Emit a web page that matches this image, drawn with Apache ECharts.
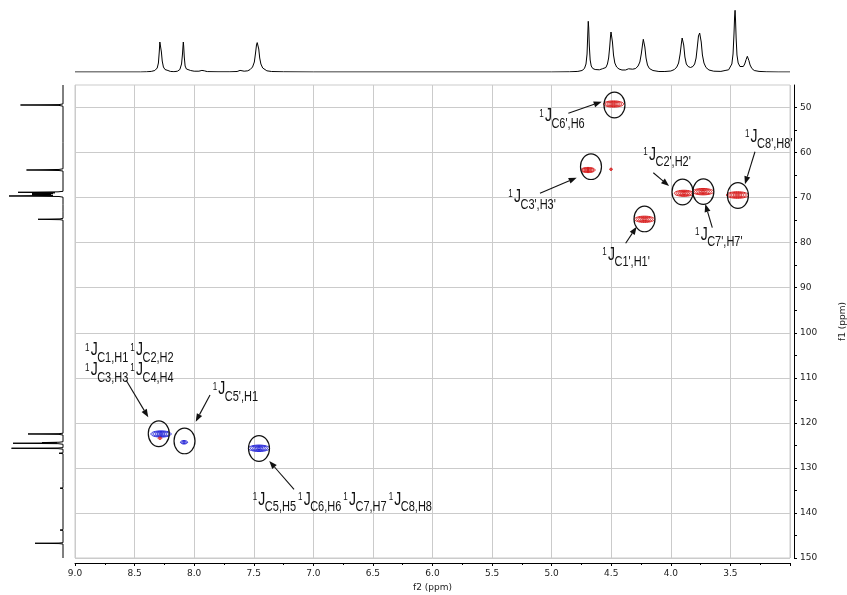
<!DOCTYPE html>
<html>
<head>
<meta charset="utf-8">
<script src="https://cdn.jsdelivr.net/npm/echarts@6/dist/echarts.min.js"></script>
<style>html,body{margin:0;padding:0;background:#fff}#c{width:847px;height:595px}</style>
</head>
<body>
<div id="c"></div>
<script>
// ---------------- DATA ----------------
// f1 (13C) axis tick values
const yLabelValues = [50, 60, 70, 80, 90, 100, 110, 120, 130, 140, 150];
const yMinorValues = [55, 65, 75, 85, 95, 105, 115, 125, 135, 145];

// 1H projection trace (top): [ppm, intensity]
const protonTrace = [
 [9.00,0],[8.45,0],[8.40,0.2],[8.36,0.6],[8.33,1.5],[8.31,4],[8.30,9],[8.293,20],[8.288,30],[8.284,31],[8.280,28],[8.275,20],[8.268,11],[8.258,5],[8.245,2.5],[8.232,2.2],[8.22,1.5],[8.20,0.6],[8.17,0.3],[8.14,0.8],[8.12,2.5],[8.106,8],[8.098,18],[8.093,27],[8.091,30],[8.088,26],[8.083,15],[8.076,6],[8.065,3],[8.05,2],[8.03,1.5],[8.00,0.8],[7.96,0.8],[7.935,1.6],[7.915,1.2],[7.89,0.4],[7.80,0.2],[7.70,0.2],[7.64,0.5],[7.615,1.6],[7.60,1.0],[7.58,0.8],[7.55,1.2],[7.53,2.5],[7.51,5],[7.495,10],[7.485,19],[7.477,27],[7.471,29.4],[7.465,28.5],[7.458,23],[7.45,14],[7.44,8],[7.425,4],[7.41,2.2],[7.39,1.2],[7.35,0.5],[7.25,0.2],[7.0,0],[5.0,0],[4.85,0.2],[4.78,0.6],[4.745,1.5],[4.725,3.5],[4.712,8],[4.703,18],[4.697,38],[4.693,50.7],[4.689,44],[4.684,26],[4.677,12],[4.668,6],[4.655,3.5],[4.635,2.5],[4.60,2.2],[4.575,3.2],[4.56,3.4],[4.545,4.5],[4.532,8],[4.522,14],[4.513,25],[4.506,36],[4.502,40],[4.497,38],[4.49,30],[4.481,17],[4.47,9],[4.455,5],[4.435,3],[4.41,2],[4.38,2],[4.355,3.2],[4.34,3],[4.32,2.8],[4.295,3.5],[4.275,6],[4.26,10],[4.248,18],[4.238,27],[4.231,32.7],[4.225,31.5],[4.218,25],[4.208,14],[4.196,7],[4.18,3.5],[4.15,1.5],[4.10,0.5],[4.05,0.5],[4.00,1],[3.97,2.5],[3.95,5],[3.935,9],[3.922,18],[3.912,28],[3.905,34],[3.899,33.5],[3.892,27],[3.882,15],[3.87,8],[3.855,5.5],[3.835,4.5],[3.815,5.5],[3.80,8],[3.788,14],[3.777,26],[3.768,36],[3.758,39],[3.752,37],[3.745,30],[3.735,17],[3.722,9],[3.705,4.5],[3.68,2],[3.64,0.8],[3.58,0.6],[3.545,1.5],[3.53,2.3],[3.515,2.2],[3.50,3.5],[3.488,8],[3.478,18],[3.47,38],[3.465,55],[3.461,61.7],[3.457,52],[3.452,34],[3.445,17],[3.435,9],[3.42,5.5],[3.405,4.5],[3.392,5.5],[3.38,8],[3.368,12.5],[3.358,15.7],[3.352,15],[3.345,11.5],[3.335,7],[3.32,3.5],[3.30,1.5],[3.26,0.6],[3.20,0.2],[3.10,0],[3.0,0]
];

// 13C projection trace (left): [ppm, intensity]
const carbonTrace = [
 [45,0],[49.2,0],[49.35,4],[49.44,42.5],[49.53,4],[49.7,0],[57.8,0],[57.95,1.5],[58.1,0],[63.6,0],[63.75,4],[63.87,36.5],[63.98,4],[64.1,0],[68.6,0],[68.72,5],[68.82,45],[68.92,8],[69.0,31],[69.1,10],[69.2,31],[69.3,12],[69.38,31],[69.5,10],[69.64,54],[69.75,4],[69.9,0],[71.5,0],[71.6,1.5],[71.7,0],[73.0,0],[73.1,1],[73.2,0],[74.6,0],[74.72,3],[74.81,25],[74.9,3],[75.0,0],[122.3,0],[122.4,4],[122.47,35],[122.56,4],[122.7,0],[124.2,0],[124.3,4],[124.38,21],[124.45,6],[124.53,50],[124.62,5],[124.75,0],[125.5,0],[125.58,5],[125.64,51.5],[125.72,5],[125.85,0],[126.65,0],[126.75,4],[126.85,0],[132.95,0],[133.06,2],[133.15,0],[134.4,0],[134.5,3],[134.6,0],[143.7,0],[143.8,3],[143.9,0],[146.6,0],[146.68,4],[146.73,28],[146.8,4],[146.9,0],[150,0]
];

// HSQC cross peaks
const peakH = [4.481, 4.695, 4.502, 4.221, 3.890, 3.730, 3.441, 8.278, 8.287, 8.085, 7.456];
const peakC = [49.22, 63.87, 63.71, 74.81, 69.04, 68.68, 69.42, 122.47, 123.42, 124.31, 125.64];
const peakSign = [1, 1, 1, 1, 1, 1, 1, -1, 1, -1, -1];
const peakIntensity = [0.95, 0.65, 0.08, 0.95, 0.9, 1.0, 1.05, 0.95, 0.12, 0.3, 1.0];

// annotation circles (assigned cross peaks)
const circleH = [4.473, 4.670, 4.221, 3.902, 3.727, 3.437, 8.297, 8.081, 7.456];
const circleC = [49.44, 63.14, 74.74, 68.75, 68.68, 69.53, 122.42, 124.02, 125.69];

// annotation labels: subscripts of each 1J term, anchor (ppm)
const labelSubs = [
 ["C6',H6"], ["C3',H3'"], ["C1',H1'"], ["C2',H2'"], ["C7',H7'"], ["C8',H8'"],
 ["C1,H1", "C2,H2"], ["C3,H3", "C4,H4"], ["C5',H1"], ["C5,H5", "C6,H6", "C7,H7", "C8,H8"]
];
const labelH = [5.104, 5.364, 4.575, 4.231, 3.797, 3.378, 8.916, 8.916, 7.845, 7.509];
const labelC = [51.97, 69.91, 82.71, 60.47, 78.23, 56.48, 103.89, 108.33, 112.55, 137.12];

// arrows: from (tail) -> to (head), ppm
const arrowFromH = [4.860, 5.098, 4.379, 4.147, 3.652, 3.294, 8.572, 7.867, 7.162];
const arrowFromC = [51.28, 69.04, 80.14, 64.47, 76.68, 59.81, 110.48, 113.81, 134.75];
const arrowToH   = [4.580, 4.790, 4.287, 4.015, 3.711, 3.378, 8.385, 7.987, 7.370];
const arrowToC   = [48.71, 65.58, 76.45, 67.42, 71.41, 67.04, 118.76, 119.74, 128.46];

// ---------------- RENDER ----------------
const FONT = '"Liberation Sans", Arial, sans-serif';
const AXFONT = '"DejaVu Sans", Verdana, sans-serif';
const mctx = document.createElement('canvas').getContext('2d');
function tw(t, size) { mctx.font = size + 'px ' + FONT; return mctx.measureText(t).width; }
function txt(t, x, y, size) {
  return { type: 'text', x: x, y: y, scaleY: 1.25,
    style: { text: t, font: size + 'px ' + FONT, fill: '#111',
      align: 'left', verticalAlign: 'middle', textAlign: 'left', textVerticalAlign: 'middle' } };
}

const chart = echarts.init(document.getElementById('c'), null, { renderer: 'canvas' });

const axisLabelStyle = { fontFamily: AXFONT, fontSize: 9, color: '#222' };
const gridColor = '#cbcbcb';

const option = {
  animation: false,
  backgroundColor: '#fff',
  grid: [
    { left: 75, right: 57, top: 85, bottom: 37, show: true, borderColor: gridColor, borderWidth: 1,
      backgroundColor: 'transparent', containLabel: false, outerBoundsMode: 'none' },
    { left: 75, right: 57, top: 7, height: 65, containLabel: false, outerBoundsMode: 'none' },
    { left: 0, width: 63, top: 85, bottom: 37, containLabel: false, outerBoundsMode: 'none' }
  ],
  xAxis: [
    { gridIndex: 0, type: 'value', min: 3, max: 9, interval: 0.5, inverse: true, offset: 5,
      axisLine: { show: true, onZero: false, lineStyle: { color: '#000', width: 1 } },
      axisTick: { show: true, length: 3, lineStyle: { color: '#000' } },
      minorTick: { show: true, splitNumber: 2, length: 2, lineStyle: { color: '#000' } },
      axisLabel: Object.assign({ margin: 6, showMinLabel: false, formatter: v => v.toFixed(1) }, axisLabelStyle),
      splitLine: { show: true, lineStyle: { color: gridColor, width: 1 } },
      name: 'f2 (ppm)', nameLocation: 'middle', nameGap: 17,
      nameTextStyle: { fontFamily: AXFONT, fontSize: 9, color: '#222' } },
    { gridIndex: 1, type: 'value', min: 3, max: 9, inverse: true, show: false },
    { gridIndex: 2, type: 'value', min: 0, max: 63, inverse: true, show: false }
  ],
  yAxis: [
    { gridIndex: 0, type: 'value', min: 45, max: 150, splitNumber: 10, inverse: true, position: 'right', offset: 4,
      axisLine: { show: true, onZero: false, lineStyle: { color: '#000', width: 1 } },
      axisTick: { show: true, length: 3, customValues: yLabelValues, lineStyle: { color: '#000' } },
      axisLabel: Object.assign({ margin: 6, customValues: yLabelValues }, axisLabelStyle),
      splitLine: { show: true, lineStyle: { color: gridColor, width: 1 } },
      name: 'f1 (ppm)', nameLocation: 'middle', nameGap: 44, nameRotate: 90,
      nameTextStyle: { fontFamily: AXFONT, fontSize: 9, color: '#222' } },
    { gridIndex: 0, type: 'value', min: 45, max: 150, inverse: true, position: 'right', offset: 4,
      axisLine: { show: false }, axisLabel: { show: false }, splitLine: { show: false },
      axisTick: { show: true, length: 3, customValues: yMinorValues, lineStyle: { color: '#000' } } },
    { gridIndex: 1, type: 'value', min: 0, max: 65, show: false },
    { gridIndex: 2, type: 'value', min: 45, max: 150, inverse: true, show: false }
  ],
  series: [
    { type: 'line', xAxisIndex: 1, yAxisIndex: 2, data: protonTrace, showSymbol: false, silent: true,
      lineStyle: { color: '#000', width: 1 } },
    { type: 'line', xAxisIndex: 2, yAxisIndex: 3, data: carbonTrace.map(d => [d[1], d[0]]), showSymbol: false, silent: true,
      lineStyle: { color: '#000', width: 1 } },
    // contours
    { type: 'custom', xAxisIndex: 0, yAxisIndex: 0, silent: true,
      data: peakH.map((h, i) => [h, peakC[i], peakSign[i], peakIntensity[i]]),
      renderItem: function (params, api) {
        const c = api.coord([api.value(0), api.value(1)]);
        const sign = api.value(2), I = api.value(3);
        const color = sign > 0 ? '#d91f1f' : '#2626d9';
        const rx = 10 * I + 0.6, ry = Math.max(1.2, 3.2 * Math.sqrt(I));
        const n = I < 0.2 ? 2 : (I < 0.5 ? 3 : 5);
        const children = [];
        for (let k = 0; k < n; k++) {
          const f = 1 - k / n;
          children.push({ type: 'ellipse', shape: { cx: c[0], cy: c[1], rx: rx * f, ry: ry * f },
            style: { fill: 'none', stroke: color, lineWidth: 1 } });
        }
        return { type: 'group', children: children };
      } },
    // circles
    { type: 'custom', xAxisIndex: 0, yAxisIndex: 0, silent: true,
      data: circleH.map((h, i) => [h, circleC[i]]),
      renderItem: function (params, api) {
        const c = api.coord([api.value(0), api.value(1)]);
        return { type: 'ellipse', shape: { cx: c[0], cy: c[1], rx: 10.5, ry: 12.8 },
          style: { fill: 'none', stroke: '#111', lineWidth: 1.2 } };
      } },
    // arrows
    { type: 'custom', xAxisIndex: 0, yAxisIndex: 0, silent: true,
      data: arrowFromH.map((h, i) => [h, arrowFromC[i], arrowToH[i], arrowToC[i]]),
      renderItem: function (params, api) {
        const a = api.coord([api.value(0), api.value(1)]);
        const b = api.coord([api.value(2), api.value(3)]);
        const dx = b[0] - a[0], dy = b[1] - a[1];
        const L = Math.sqrt(dx * dx + dy * dy), ux = dx / L, uy = dy / L;
        const hl = 8, hw = 3;
        const bx = b[0] - ux * hl, by = b[1] - uy * hl;
        return { type: 'group', children: [
          { type: 'line', shape: { x1: a[0], y1: a[1], x2: bx, y2: by }, style: { stroke: '#111', lineWidth: 1.1 } },
          { type: 'polygon', shape: { points: [[b[0], b[1]], [bx - uy * hw, by + ux * hw], [bx + uy * hw, by - ux * hw]] },
            style: { fill: '#111' } }
        ] };
      } },
    // labels
    { type: 'custom', xAxisIndex: 0, yAxisIndex: 0, silent: true, clip: false,
      data: labelH.map((h, i) => [h, labelC[i], i]),
      renderItem: function (params, api) {
        const idx = api.value(2);
        const p = api.coord([api.value(0), api.value(1)]);
        let x = p[0]; const y = p[1];
        const children = [];
        labelSubs[idx].forEach(function (sub) {
          children.push(txt('1', x, y - 2.5, 8));
          x += tw('1', 8) + 1.2;
          children.push(txt('J', x, y, 14));
          x += tw('J', 14) - 0.5;
          children.push(txt(sub, x, y + 7.7, 11));
          x += tw(sub, 11) + 2;
        });
        return { type: 'group', children: children };
      } }
  ]
};
chart.setOption(option);
</script>
</body>
</html>
